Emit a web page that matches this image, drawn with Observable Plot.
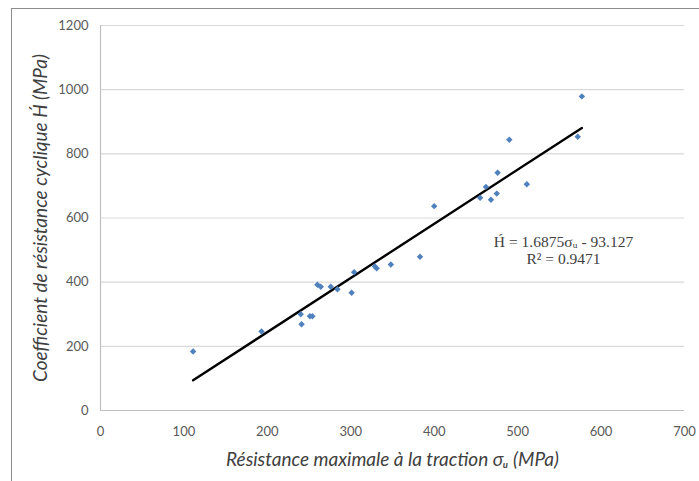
<!DOCTYPE html>
<html><head><meta charset="utf-8">
<script src="https://cdn.jsdelivr.net/npm/d3@7"></script>
<script src="https://cdn.jsdelivr.net/npm/@observablehq/plot@0.6"></script>
<style>
html,body{margin:0;padding:0;background:#fff;}
#wrap{position:relative;width:699px;height:481px;overflow:hidden;}
#border{position:absolute;left:11px;top:8px;width:760px;height:560px;border-top:1.5px solid #8c8c8c;border-left:1.5px solid #8c8c8c;pointer-events:none;}
</style></head><body>
<div id="wrap"><div id="border"></div></div>
<script>
// Data
const sigmaU = [111, 193, 240, 241, 251, 254, 260, 264, 276, 284, 301, 304, 329, 331, 348, 383, 400, 455, 462, 468, 475, 476, 490, 511, 572, 577];
const hCyclic = [184, 246, 300, 269, 294, 294, 392, 386, 386, 378, 367, 431, 449, 443, 455, 479, 637, 663, 697, 657, 676, 741, 844, 705, 853, 979];
const slope = 1.6875;
const intercept = -93.127;
const rSquared = 0.9471;
const xTicks = [0, 100, 200, 300, 400, 500, 600, 700];
const yTicks = [0, 200, 400, 600, 800, 1000, 1200];
const xTitle = "Résistance maximale à la traction σᵤ (MPa)";
const yTitle = "Coefficient de résistance cyclique H\u0301 (MPa)";
const eqText = `H\u0301 = ${slope}σᵤ - ${Math.abs(intercept)}\nR² = ${rSquared}`;

const points = sigmaU.map((x, i) => ({x, y: hCyclic[i]}));
const [xmin, xmax] = d3.extent(sigmaU);
const fit = [xmin, xmax].map(x => ({x, y: slope * x + intercept}));

const titleStyle = {fontSize: 19, fontStyle: "italic", fill: "#404040"};
const chart = Plot.plot({
  width: 699, height: 481,
  marginLeft: 100, marginRight: 15, marginTop: 25, marginBottom: 71,
  style: {fontFamily: "Lato, 'Open Sans', sans-serif", background: "transparent", overflow: "visible"},
  x: {domain: [0, 700]},
  y: {domain: [0, 1200]},
  marks: [
    Plot.gridY(yTicks, {stroke: "#d9d9d9", strokeOpacity: 1, strokeWidth: 1.2}),
    Plot.ruleX([0], {stroke: "#bfbfbf", strokeWidth: 1.2}),
    Plot.ruleY([0], {stroke: "#bfbfbf", strokeWidth: 1.2}),
    Plot.axisX(xTicks, {tickSize: 0, tickPadding: 16, fontSize: 13, fill: "#595959", label: null, tickFormat: d3.format("d")}),
    Plot.axisY(yTicks, {tickSize: 0, tickPadding: 12, fontSize: 13, fill: "#595959", label: null, tickFormat: d3.format("d")}),
    Plot.axisX([], {tickSize: 0, label: xTitle, labelAnchor: "center", labelOffset: 55, labelArrow: "none", ...titleStyle}),
    Plot.axisY([], {tickSize: 0, label: yTitle, labelAnchor: "center", labelOffset: 67, labelArrow: "none", ...titleStyle}),
    Plot.line(fit, {x: "x", y: "y", stroke: "#000", strokeWidth: 2.4}),
    Plot.dot(points, {x: "x", y: "y", symbol: "diamond2", r: 2.9, fill: "#4f81bd", stroke: "none"}),
    Plot.text([eqText], {frameAnchor: "top-right", dx: -121, dy: 209, text: d => d, textAnchor: "middle", lineAnchor: "top",
      fontFamily: "'Liberation Serif', 'DejaVu Serif', serif", fontSize: 15.5, lineHeight: 1.12, fill: "#404040"})
  ]
});
document.getElementById("wrap").appendChild(chart);
</script>
</body></html>
